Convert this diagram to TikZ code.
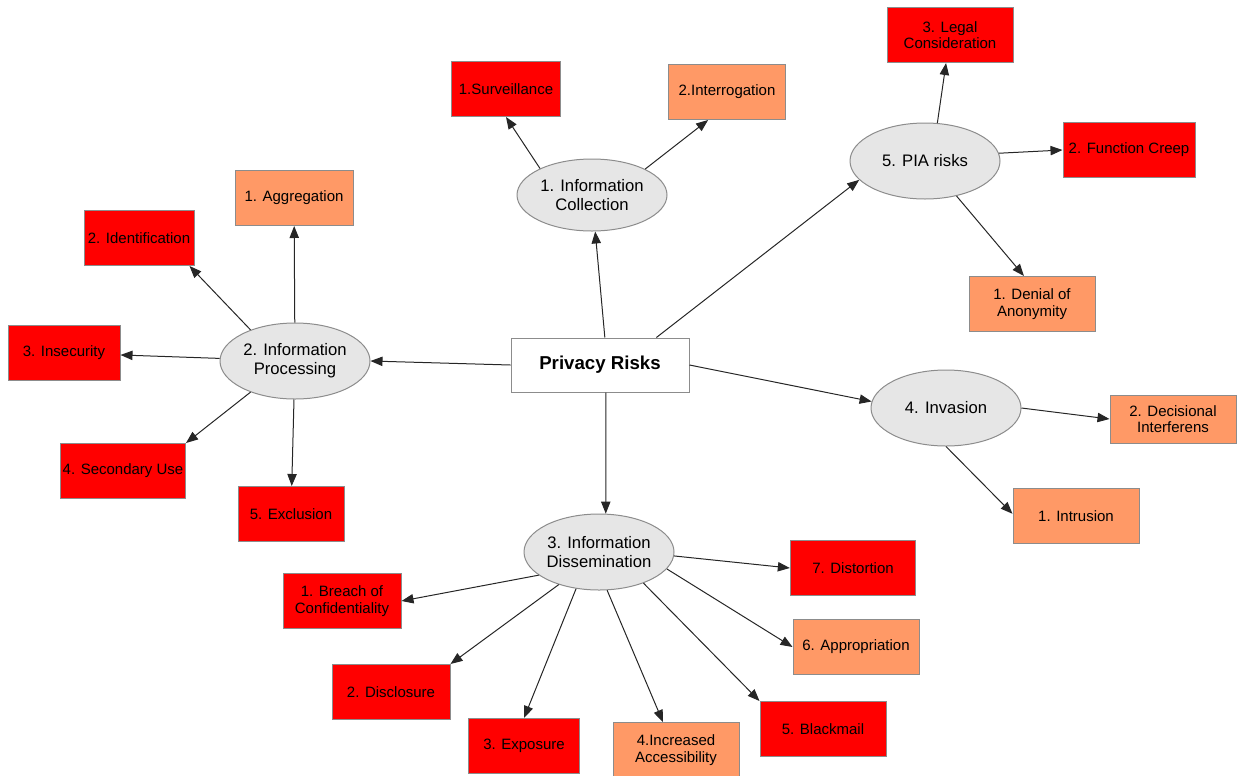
\documentclass[tikz,border=0pt]{standalone}
\usepackage{fontspec}
\setmainfont{Liberation Sans}
\usetikzlibrary{arrows.meta,shapes.geometric}
\definecolor{rred}{HTML}{FF0000}
\definecolor{rorange}{HTML}{FF9966}
\definecolor{egray}{HTML}{E6E6E6}
\definecolor{bordergray}{HTML}{8C8C8C}
\tikzset{
  basebox/.style={rectangle, draw=bordergray, line width=0.75pt, inner sep=1pt, align=center,
     minimum height=41.25pt, font=\fontsize{11.25}{12.5}\selectfont},
  rbox/.style={basebox, fill=rred},
  obox/.style={basebox, fill=rorange},
  ell/.style={ellipse, draw=bordergray, fill=egray, line width=0.75pt, inner sep=0pt, align=center,
     minimum width=112.5pt, minimum height=57pt, font=\fontsize{12.5}{14.5}\selectfont},
  central/.style={rectangle, draw=bordergray, fill=white, line width=0.75pt, align=center,
     minimum width=133.5pt, minimum height=40.5pt, font=\fontsize{14}{16}\selectfont\bfseries},
  arr/.style={draw=black!85, line width=0.75pt, -{Triangle[length=9pt,width=7pt]}}
}
\begin{document}
\begin{tikzpicture}[x=0.75pt,y=-0.75pt]
\useasboundingbox (0,0) rectangle (1237,775);
% central
\node[central] (pr) at (600,365) {Privacy Risks};
% ellipses
\node[ell, minimum height=54pt] (ic) at (592,195) {1. Information\\Collection};
\node[ell] (ip) at (295,361) {2. Information\\Processing};
\node[ell] (id) at (599,552) {3. Information\\Dissemination};
\node[ell] (inv) at (946,408) {4. Invasion};
\node[ell] (pia) at (925,161) {5. PIA risks};
% collection
\node[rbox, minimum width=81.75pt] (surv) at (506,89) {1.Surveillance};
\node[obox, minimum width=87.75pt] (interr) at (727,92) {2.Interrogation};
% PIA
\node[rbox, minimum width=94.5pt] (legal) at (950,35) {3. Legal\\Consideration};
\node[rbox, minimum width=99pt] (func) at (1129,150) {2. Function Creep};
\node[obox, minimum width=94.5pt] (denial) at (1032,304) {1. Denial of\\Anonymity};
% processing
\node[obox, minimum width=88.5pt] (aggr) at (294,198) {1. Aggregation};
\node[rbox, minimum width=82.5pt] (ident) at (139,238) {2. Identification};
\node[rbox, minimum width=84pt] (insec) at (64,353) {3. Insecurity};
\node[rbox, minimum width=93.75pt] (secuse) at (123,471) {4. Secondary Use};
\node[rbox, minimum width=79.5pt] (excl) at (291,514) {5. Exclusion};
% invasion
\node[obox, minimum width=94.5pt, minimum height=36pt] (decis) at (1173,419) {2. Decisional\\Interferens};
\node[obox, minimum width=94.5pt] (intru) at (1076,516) {1. Intrusion};
% dissemination
\node[rbox, minimum width=88.5pt] (breach) at (342,601) {1. Breach of\\Confidentiality};
\node[rbox, minimum width=88.5pt] (discl) at (391,692) {2. Disclosure};
\node[rbox, minimum width=83.25pt] (expo) at (524,746) {3. Exposure};
\node[obox, minimum width=94.5pt] (incr) at (676,750) {4.Increased\\Accessibility};
\node[rbox, minimum width=94.5pt] (black) at (823,729) {5. Blackmail};
\node[obox, minimum width=94.5pt] (appro) at (856,647) {6. Appropriation};
\node[rbox, minimum width=94pt] (dist) at (853,568) {7. Distortion};
% arrows from central
\draw[arr] (pr.80) -- (ic.275);
\draw[arr] (pr.west) -- (ip.east);
\draw[arr] (pr.282) -- (id.80);
\draw[arr] (pr.east) -- (inv.175);
\draw[arr] (pr.26) -- (pia.196);
% collection
\draw[arr] (ic.153) -- (surv.south);
\draw[arr] (ic.26) -- (interr.236);
% PIA
\draw[arr] (pia.72) -- (legal.262);
\draw[arr] (pia.6) -- (func.west);
\draw[arr] (pia.312) -- (denial.106);
% processing
\draw[arr] (ip) -- (aggr);
\draw[arr] (ip.145) -- (ident.331);
\draw[arr] (ip) -- (insec);
\draw[arr] (ip.215) -- (secuse.north east);
\draw[arr] (ip) -- (excl);
% invasion
\draw[arr] (inv.east) -- (decis.west);
\draw[arr] (inv.south) -- (intru.178);
% dissemination
\draw[arr] (id.201) -- (breach.east);
\draw[arr] (id.219) -- (discl.north east);
\draw[arr] (id.238) -- (expo.north);
\draw[arr] (id.282) -- (incr.115);
\draw[arr] (id.325) -- (black.north west);
\draw[arr] (id.346) -- (appro.west);
\draw[arr] (id.357) -- (dist.west);
\end{tikzpicture}
\end{document}
